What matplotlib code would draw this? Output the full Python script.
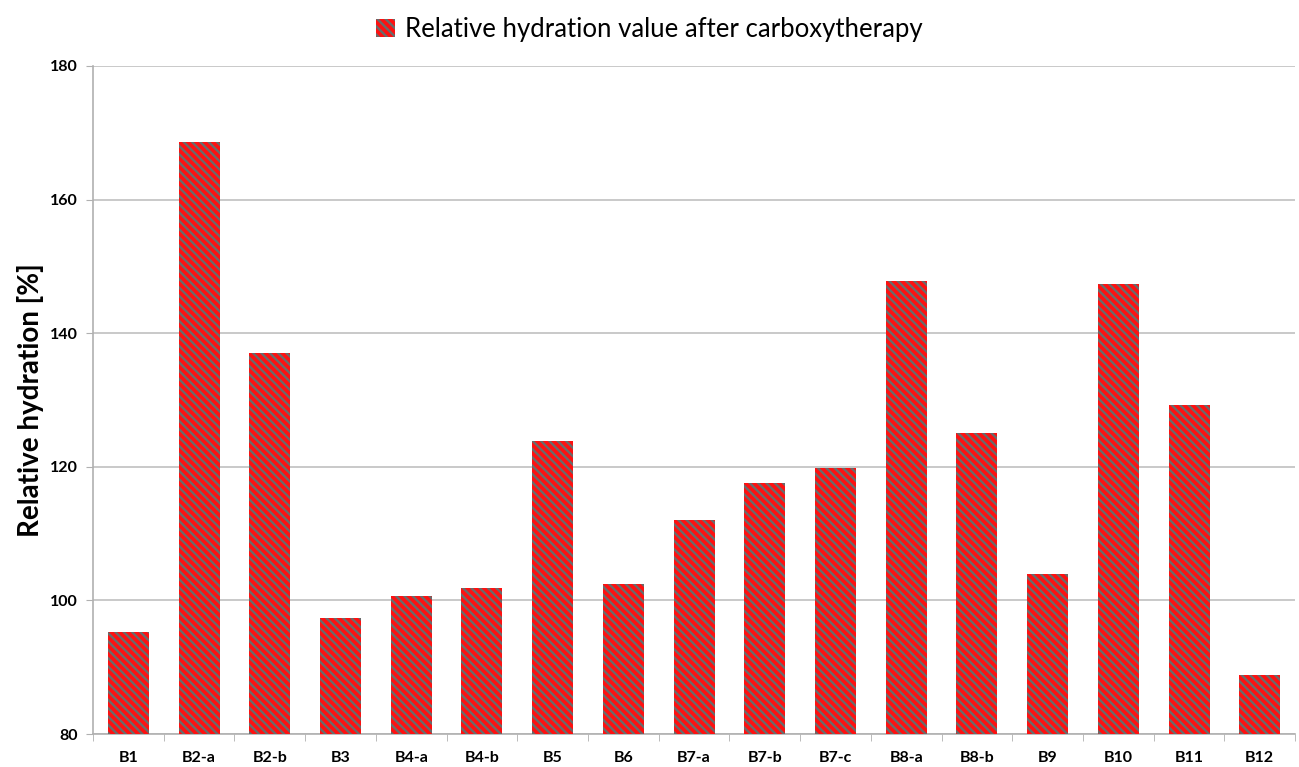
import matplotlib

matplotlib.use("Agg")
import matplotlib.pyplot as plt
import numpy as np

LABELS = ["B1", "B2-a", "B2-b", "B3", "B4-a", "B4-b", "B5", "B6", "B7-a",
          "B7-b", "B7-c", "B8-a", "B8-b", "B9", "B10", "B11", "B12"]
VALUES = [95.3, 168.6, 137.1, 97.4, 100.7, 101.9, 123.9, 102.5, 112.0,
          117.6, 119.8, 147.8, 125.1, 104.0, 147.3, 129.2, 88.8]
SERIES = "Relative hydration value after carboxytherapy"

plt.rcParams["font.family"] = ["Lato", "DejaVu Sans"]
plt.rcParams["hatch.linewidth"] = 1.7

fig = plt.figure(figsize=(12.99, 7.67), dpi=100)
ax = fig.add_axes([0.0716, 0.043, 0.9254, 0.871])

x = np.arange(len(LABELS))
ax.bar(x, VALUES, width=0.58, bottom=0, color="#ff1010", edgecolor="#6a6a6a",
       linewidth=0, hatch="\\\\\\\\", label=SERIES, zorder=3)

ax.set_xlim(-0.5, len(LABELS) - 0.5)
ax.set_ylim(80, 180)
ax.set_yticks(range(80, 181, 20))
ax.yaxis.grid(True, color="#c0c0c0", linewidth=1.2, zorder=0)

ax.set_xticks(x)
ax.set_xticklabels(LABELS, fontsize=11.5, fontweight="bold")
ax.set_xticks(np.arange(-0.5, len(LABELS)), minor=True)
ax.tick_params(axis="x", which="major", length=0, pad=12)
ax.tick_params(axis="x", which="minor", length=5, color="#b0b0b0")
ax.tick_params(axis="y", length=5, color="#b0b0b0", labelsize=11.5, pad=6)
for lab in ax.get_yticklabels():
    lab.set_fontweight("bold")

for side in ["top", "right"]:
    ax.spines[side].set_visible(False)
for side in ["left", "bottom"]:
    ax.spines[side].set_color("#b0b0b0")
    ax.spines[side].set_linewidth(1.2)

ax.set_ylabel("Relative hydration [%]", fontsize=20, fontweight="bold", labelpad=4)

fig.legend(loc="upper center", bbox_to_anchor=(0.5, 1.008), frameon=False,
           fontsize=18.5, handlelength=0.75, handleheight=0.75, handletextpad=0.4)

fig.savefig("out.png", dpi=100)
